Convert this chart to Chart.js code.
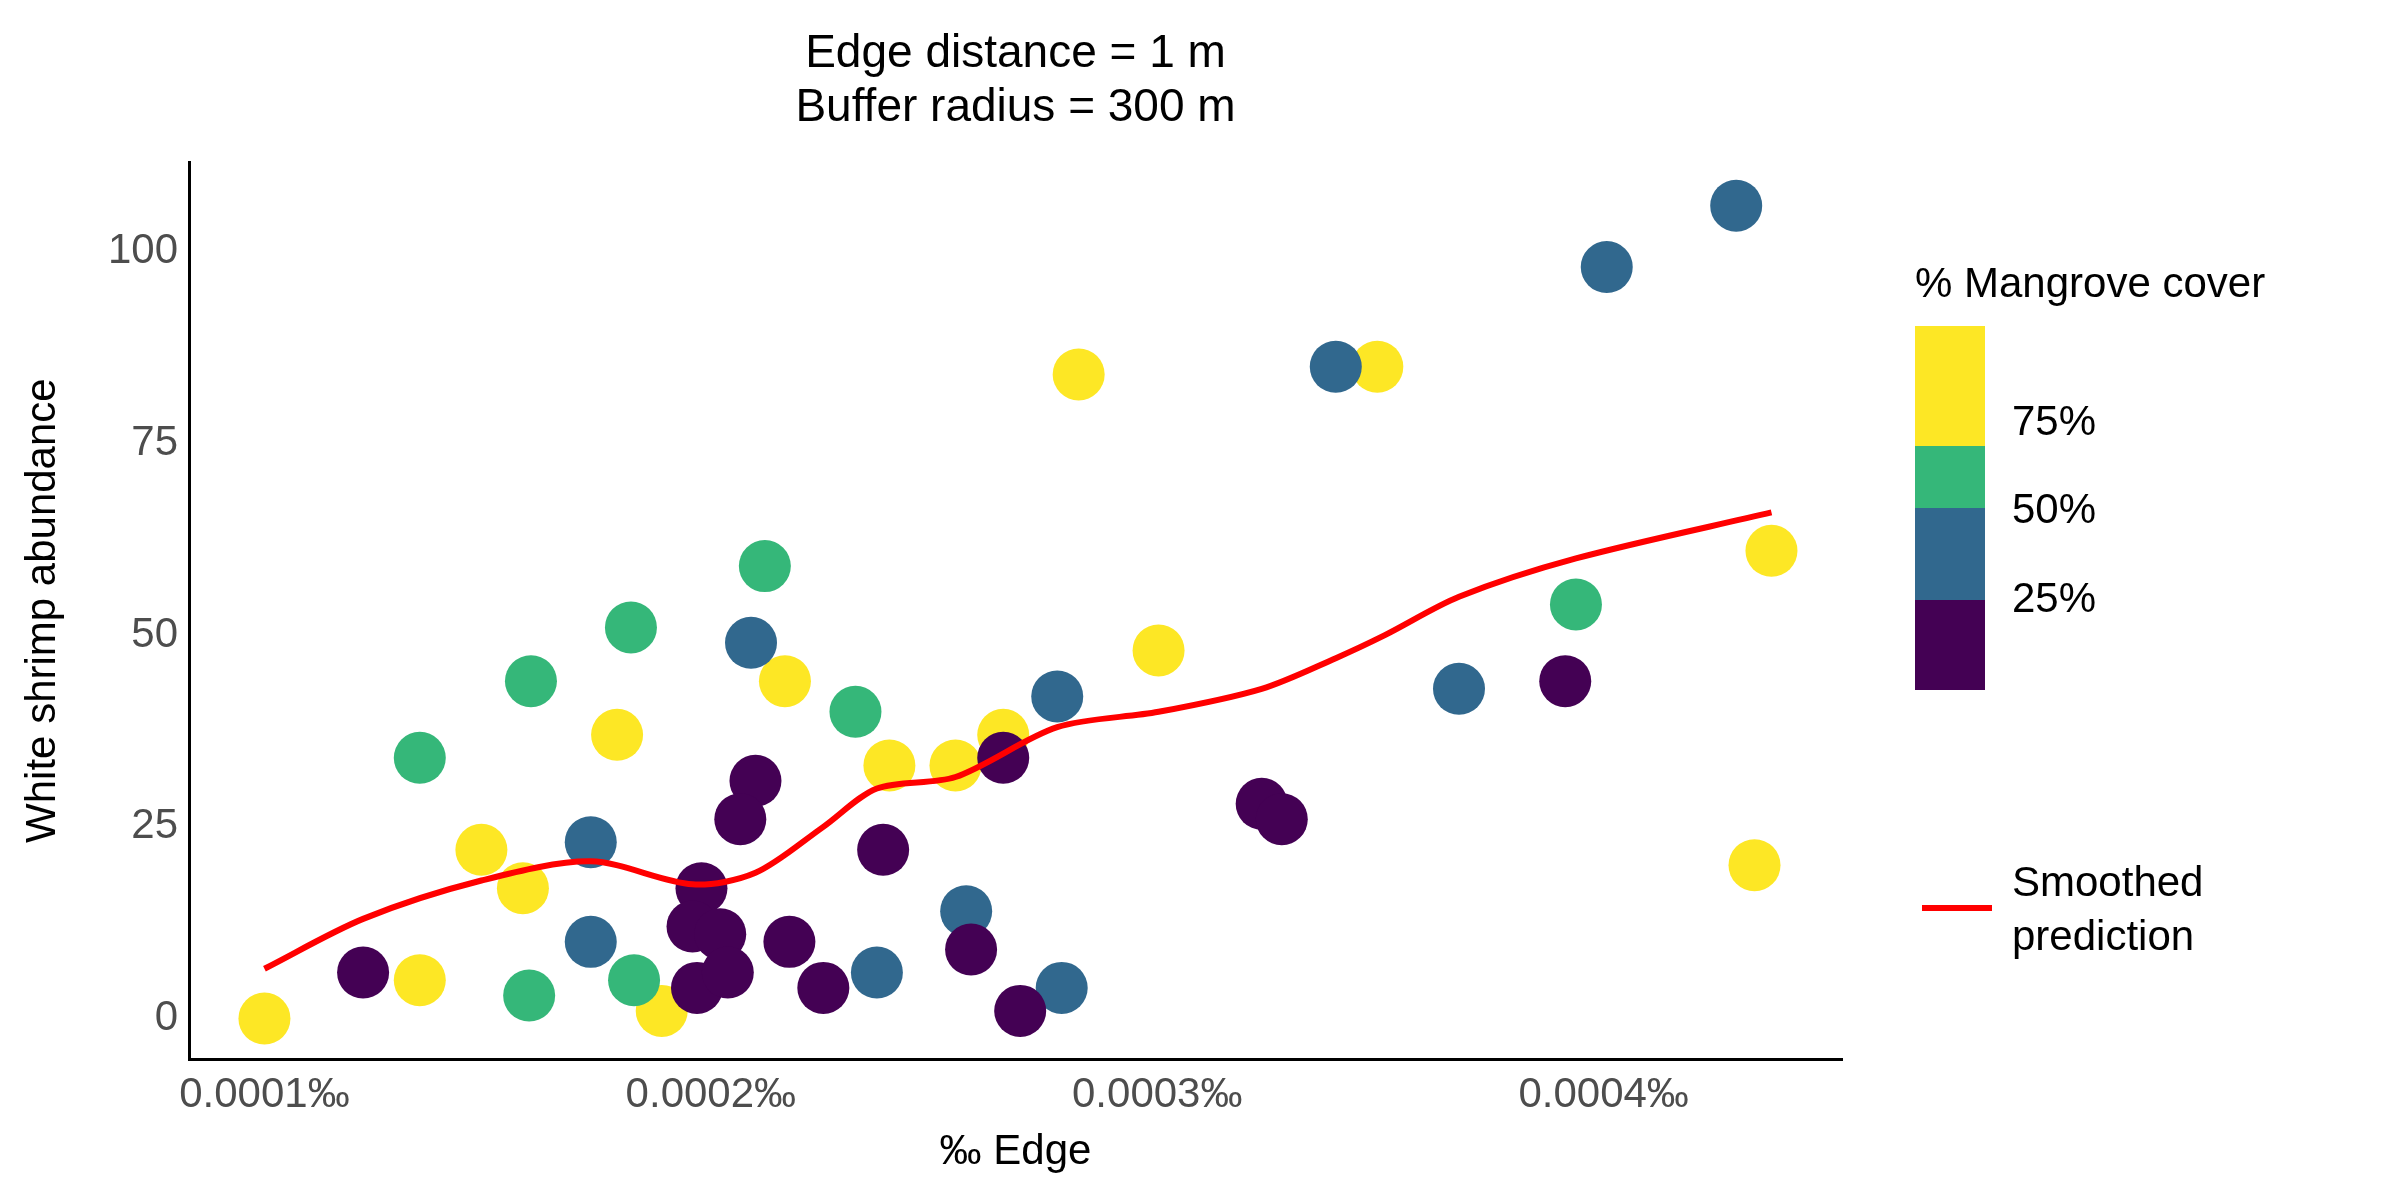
<!DOCTYPE html>
<html>
<head>
<meta charset="utf-8">
<script src="https://cdn.jsdelivr.net/npm/chart.js@4"></script>
<style>
  html, body { margin: 0; background: #fff; }
  #wrap { width: 2400px; height: 1200px; }
</style>
</head>
<body>
<div id="wrap"><canvas id="c"></canvas></div>
<script>
// 数据：x 为 ‰ Edge，y 为白虾丰度
const yellowX = [0.0001000, 0.0001348, 0.0001486, 0.0001579, 0.0001790, 0.0001890, 0.0002166, 0.0002400, 0.0002548, 0.0002655, 0.0002824, 0.0003003, 0.0003493, 0.0004376, 0.0004338];
const yellowY = [0, 5, 22, 17, 37, 1, 44, 33, 33, 37, 84, 48, 85, 61, 20];
const greenX = [0.0001348, 0.0001597, 0.0001593, 0.0001821, 0.0001828, 0.0002121, 0.0002324, 0.0003938];
const greenY = [34, 44, 3, 51, 5, 59, 40, 54];
const blueX = [0.0001731, 0.0001731, 0.0002090, 0.0002372, 0.0002572, 0.0002776, 0.0002786, 0.0003400, 0.0004007, 0.0004297, 0.0003676];
const blueY = [23, 10, 49, 6, 14, 42, 4, 85, 98, 106, 43];
const purpleX = [0.0001221, 0.0001979, 0.0001959, 0.0001969, 0.0002021, 0.0002038, 0.0002100, 0.0002066, 0.0002176, 0.0002252, 0.0002386, 0.0002583, 0.0002655, 0.0002693, 0.0003234, 0.0003279, 0.0003914];
const purpleY = [6, 17, 12, 4, 11, 6, 31, 26, 10, 4, 22, 9, 34, 1, 28, 26, 44];
const smoothX = [0.0001, 0.0001221, 0.0001486, 0.0001731, 0.0001959, 0.0002100, 0.0002252, 0.0002372, 0.0002548, 0.0002776, 0.0003003, 0.0003234, 0.0003400, 0.0003510, 0.0003676, 0.0003938, 0.0004376];
const smoothY = [6.5, 13, 18, 20.5, 17.5, 19, 25, 30, 31.5, 38, 40, 43, 47, 50, 55, 60, 66];
const xTicks = [0.0001, 0.0002, 0.0003, 0.0004];
const yTicks = [0, 25, 50, 75, 100];
const legendLabels = ['75%', '50%', '25%'];
const titleLines = ['Edge distance = 1 m', 'Buffer radius = 300 m'];

const YELLOW = '#FDE725', GREEN = '#35B779', BLUE = '#31688E', PURPLE = '#440154';
const FONT = 'Arial, "Liberation Sans", sans-serif';

function pts(xs, ys) { return xs.map((x, i) => ({ x: x, y: ys[i] })); }
function dots(data, color) {
    return { type: 'scatter', data: data, backgroundColor: color, borderWidth: 0, pointRadius: 26, pointHoverRadius: 26 };
}

// 标题（居中于绘图区）和右侧图例
const extrasPlugin = {
    id: 'extras',
    afterDraw(chart) {
        const ctx = chart.ctx;
        const a = chart.chartArea;
        ctx.save();
        ctx.fillStyle = '#000';
        ctx.textBaseline = 'middle';
        ctx.font = '46px ' + FONT;
        ctx.textAlign = 'center';
        const cx = (a.left + a.right) / 2;
        ctx.fillText(titleLines[0], cx, 54);
        ctx.fillText(titleLines[1], cx, 108);

        ctx.textAlign = 'left';
        ctx.font = '42px ' + FONT;
        ctx.fillText('% Mangrove cover', 1915, 285);
        const bx = 1915, bw = 70;
        const blocks = [[YELLOW, 326, 446], [GREEN, 446, 508], [BLUE, 508, 600], [PURPLE, 600, 690]];
        blocks.forEach(b => { ctx.fillStyle = b[0]; ctx.fillRect(bx, b[1], bw, b[2] - b[1]); });
        ctx.fillStyle = '#000';
        const ly = [423, 511, 600];
        legendLabels.forEach((t, i) => ctx.fillText(t, 2012, ly[i]));
        ctx.strokeStyle = '#FF0000';
        ctx.lineWidth = 6;
        ctx.beginPath(); ctx.moveTo(1922, 908); ctx.lineTo(1992, 908); ctx.stroke();
        ctx.fillText('Smoothed', 2012, 884);
        ctx.fillText('prediction', 2012, 938);
        ctx.restore();
    }
};

new Chart(document.getElementById('c'), {
    type: 'scatter',
    data: {
        datasets: [
            { type: 'line', data: pts(smoothX, smoothY), borderColor: '#FF0000', borderWidth: 6, pointRadius: 0, fill: false, tension: 0.3, order: 0 },
            dots(pts(purpleX, purpleY), PURPLE),
            dots(pts(blueX, blueY), BLUE),
            dots(pts(greenX, greenY), GREEN),
            dots(pts(yellowX, yellowY), YELLOW)
        ]
    },
    options: {
        responsive: true,
        maintainAspectRatio: false,
        animation: false,
        layout: { padding: { left: 14, right: 558, top: 162, bottom: 18 } },
        plugins: {
            legend: { display: false },
            tooltip: { enabled: false },
            title: { display: false }
        },
        scales: {
            x: {
                type: 'linear',
                min: 0.0000831, max: 0.0004534,
                afterBuildTicks(axis) { axis.ticks = xTicks.map(v => ({ value: v })); },
                grid: { display: false, drawTicks: true, tickLength: 8, tickColor: '#333' },
                border: { color: '#000', width: 3 },
                ticks: { color: '#4d4d4d', font: { family: FONT, size: 42 }, callback: v => v.toFixed(4) + '‰' },
                title: { display: true, text: '‰ Edge', color: '#000', font: { family: FONT, size: 42 } }
            },
            y: {
                min: -5.3, max: 111.7,
                afterBuildTicks(axis) { axis.ticks = yTicks.map(v => ({ value: v })); },
                grid: { display: false, drawTicks: true, tickLength: 8, tickColor: '#333' },
                border: { color: '#000', width: 3 },
                ticks: { color: '#4d4d4d', font: { family: FONT, size: 42 } },
                title: { display: true, text: 'White shrimp abundance', color: '#000', font: { family: FONT, size: 42 } },
                afterFit(axis) { axis.width = 175; }
            }
        }
    },
    plugins: [extrasPlugin]
});
</script>
</body>
</html>
